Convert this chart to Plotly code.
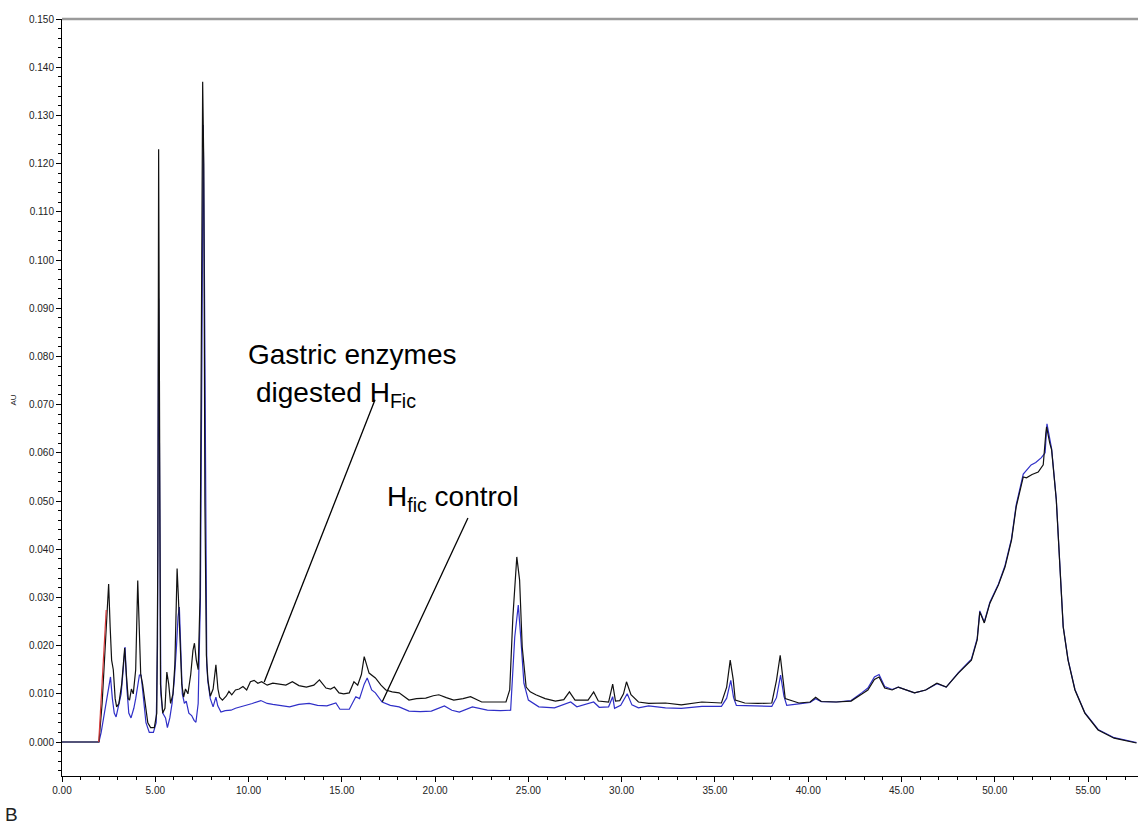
import plotly.graph_objects as go

# Retention time (min) and absorbance (AU) for the gastric-enzyme digested sample
digested_t = [0.00, 1.98, 2.15, 2.30, 2.42, 2.50, 2.58, 2.66, 2.75, 2.85, 2.93, 3.05, 3.20, 3.30, 3.36,
              3.45, 3.55, 3.62, 3.72, 3.82, 3.95, 4.06, 4.14, 4.22, 4.32, 4.45, 4.60, 4.75, 4.95, 5.08,
              5.14, 5.18, 5.22, 5.28, 5.40, 5.52, 5.62, 5.72, 5.82, 5.95, 6.05, 6.12, 6.17, 6.24, 6.32,
              6.42, 6.52, 6.62, 6.75, 6.90, 7.02, 7.10, 7.20, 7.30, 7.40, 7.48, 7.54, 7.60, 7.66, 7.74,
              7.82, 7.95, 8.10, 8.25, 8.36, 8.45, 8.60, 8.80, 8.95, 9.10, 9.30, 9.50, 9.70, 9.90, 10.10,
              10.30, 10.50, 10.70, 11.00, 11.30, 11.60, 12.00, 12.35, 12.70, 13.10, 13.50, 13.80, 14.15,
              14.40, 14.60, 14.85, 15.10, 15.40, 15.65, 15.85, 16.05, 16.20, 16.35, 16.46, 16.80, 17.10,
              17.36, 17.70, 18.07, 18.40, 18.60, 19.00, 19.50, 19.90, 20.20, 20.60, 21.00, 21.50, 21.90,
              22.50, 23.20, 23.80, 24.00, 24.17, 24.38, 24.53, 24.67, 24.88, 25.10, 25.40, 25.90, 26.45,
              26.90, 27.20, 27.50, 28.20, 28.50, 28.75, 29.30, 29.52, 29.67, 29.90, 30.10, 30.26, 30.50,
              30.90, 31.45, 32.35, 33.20, 34.30, 35.35, 35.63, 35.82, 35.98, 36.09, 36.60, 37.30, 38.05,
              38.30, 38.50, 38.65, 38.77, 39.50, 40.10, 40.40, 40.70, 41.50, 42.30, 42.90, 43.20, 43.55,
              43.80, 44.10, 44.50, 44.83, 45.10, 45.70, 46.30, 46.90, 47.40, 48.05, 48.75, 49.06, 49.20,
              49.44, 49.74, 50.20, 50.55, 50.90, 51.15, 51.53, 51.70, 52.00, 52.33, 52.60, 52.74, 52.78,
              52.95, 53.05, 53.30, 53.50, 53.67, 53.93, 54.30, 54.83, 55.54, 56.40, 57.60]
digested_au = [0.0000, 0.0000, 0.0080, 0.0200, 0.0280, 0.0328, 0.0240, 0.0170, 0.0150, 0.0090, 0.0073,
               0.0080, 0.0120, 0.0170, 0.0195, 0.0140, 0.0090, 0.0087, 0.0110, 0.0100, 0.0150, 0.0335,
               0.0220, 0.0140, 0.0120, 0.0080, 0.0040, 0.0030, 0.0030, 0.0060, 0.0400, 0.1230, 0.0600,
               0.0120, 0.0060, 0.0070, 0.0145, 0.0120, 0.0080, 0.0100, 0.0160, 0.0300, 0.0360, 0.0300,
               0.0200, 0.0120, 0.0093, 0.0110, 0.0100, 0.0140, 0.0190, 0.0205, 0.0170, 0.0150, 0.0300,
               0.0900, 0.1370, 0.1200, 0.0500, 0.0180, 0.0130, 0.0095, 0.0110, 0.0160, 0.0110, 0.0093,
               0.0087, 0.0095, 0.0105, 0.0098, 0.0108, 0.0110, 0.0115, 0.0108, 0.0125, 0.0128, 0.0122,
               0.0125, 0.0118, 0.0122, 0.0120, 0.0118, 0.0125, 0.0117, 0.0114, 0.0118, 0.0129, 0.0112,
               0.0110, 0.0114, 0.0102, 0.0100, 0.0102, 0.0125, 0.0118, 0.0140, 0.0177, 0.0160, 0.0143,
               0.0133, 0.0118, 0.0108, 0.0104, 0.0102, 0.0092, 0.0087, 0.0090, 0.0091, 0.0096, 0.0098,
               0.0092, 0.0087, 0.0090, 0.0094, 0.0083, 0.0083, 0.0083, 0.0108, 0.0260, 0.0384, 0.0336,
               0.0197, 0.0114, 0.0104, 0.0098, 0.0090, 0.0085, 0.0088, 0.0104, 0.0087, 0.0087, 0.0104,
               0.0085, 0.0083, 0.0120, 0.0085, 0.0086, 0.0100, 0.0125, 0.0098, 0.0083, 0.0080, 0.0081,
               0.0077, 0.0083, 0.0081, 0.0114, 0.0170, 0.0130, 0.0087, 0.0081, 0.0080, 0.0081, 0.0128,
               0.0180, 0.0130, 0.0090, 0.0081, 0.0083, 0.0093, 0.0084, 0.0083, 0.0085, 0.0100, 0.0108,
               0.0130, 0.0135, 0.0112, 0.0108, 0.0114, 0.0110, 0.0102, 0.0108, 0.0122, 0.0114, 0.0143,
               0.0170, 0.0212, 0.0270, 0.0247, 0.0288, 0.0326, 0.0363, 0.0419, 0.0488, 0.0550, 0.0548,
               0.0555, 0.0560, 0.0575, 0.0641, 0.0654, 0.0620, 0.0606, 0.0502, 0.0363, 0.0239, 0.0170,
               0.0108, 0.0060, 0.0025, 0.0008, -0.0002]

# Undigested H_fic control
control_t = [0.00, 1.98, 2.10, 2.27, 2.40, 2.52, 2.60, 2.70, 2.80, 2.90, 3.00, 3.17, 3.28, 3.38, 3.48,
             3.58, 3.70, 3.85, 3.95, 4.05, 4.15, 4.24, 4.35, 4.50, 4.68, 4.90, 5.05, 5.12, 5.18, 5.24,
             5.30, 5.40, 5.55, 5.65, 5.78, 5.90, 6.02, 6.14, 6.22, 6.29, 6.36, 6.45, 6.56, 6.66, 6.80,
             6.95, 7.08, 7.18, 7.30, 7.42, 7.50, 7.57, 7.63, 7.70, 7.76, 7.82, 7.95, 8.10, 8.25, 8.35,
             8.52, 8.75, 9.06, 9.30, 9.50, 9.93, 10.20, 10.66, 11.00, 11.30, 11.70, 12.20, 12.70, 13.25,
             13.70, 14.20, 14.68, 14.90, 15.40, 15.75, 15.95, 16.20, 16.36, 16.60, 16.80, 17.16, 17.60,
             18.07, 18.60, 19.20, 19.80, 20.50, 20.90, 21.30, 22.00, 22.80, 23.50, 24.05, 24.27, 24.46,
             24.60, 24.76, 25.00, 25.56, 26.40, 27.27, 27.60, 28.50, 28.80, 29.30, 29.52, 29.62, 29.95,
             30.30, 30.55, 30.90, 31.45, 32.35, 33.20, 34.30, 35.35, 35.63, 35.85, 36.00, 36.15, 37.00,
             38.05, 38.30, 38.52, 38.70, 38.85, 39.50, 40.10, 40.40, 40.70, 41.50, 42.30, 42.90, 43.20,
             43.55, 43.80, 44.10, 44.50, 44.83, 45.10, 45.70, 46.30, 46.90, 47.40, 48.05, 48.75, 49.06,
             49.20, 49.44, 49.74, 50.20, 50.55, 50.90, 51.15, 51.53, 51.95, 52.20, 52.50, 52.70, 52.80,
             52.95, 53.05, 53.30, 53.50, 53.67, 53.93, 54.30, 54.83, 55.54, 56.40, 57.60]
control_au = [0.0000, 0.0000, 0.0020, 0.0060, 0.0090, 0.0125, 0.0135, 0.0090, 0.0060, 0.0052, 0.0070,
              0.0100, 0.0150, 0.0197, 0.0110, 0.0060, 0.0050, 0.0070, 0.0090, 0.0120, 0.0139, 0.0139,
              0.0090, 0.0040, 0.0020, 0.0020, 0.0040, 0.0200, 0.0920, 0.0400, 0.0100, 0.0060, 0.0050,
              0.0030, 0.0050, 0.0080, 0.0128, 0.0200, 0.0260, 0.0280, 0.0200, 0.0100, 0.0080, 0.0085,
              0.0060, 0.0055, 0.0045, 0.0041, 0.0080, 0.0300, 0.0800, 0.1280, 0.1000, 0.0400, 0.0160,
              0.0125, 0.0090, 0.0073, 0.0093, 0.0075, 0.0062, 0.0065, 0.0066, 0.0070, 0.0072, 0.0077,
              0.0080, 0.0086, 0.0080, 0.0078, 0.0076, 0.0073, 0.0078, 0.0080, 0.0076, 0.0075, 0.0081,
              0.0068, 0.0068, 0.0094, 0.0090, 0.0120, 0.0133, 0.0108, 0.0102, 0.0083, 0.0076, 0.0073,
              0.0064, 0.0063, 0.0064, 0.0075, 0.0066, 0.0062, 0.0073, 0.0066, 0.0065, 0.0066, 0.0218,
              0.0284, 0.0213, 0.0122, 0.0087, 0.0073, 0.0071, 0.0083, 0.0073, 0.0083, 0.0072, 0.0073,
              0.0094, 0.0070, 0.0076, 0.0100, 0.0077, 0.0071, 0.0075, 0.0071, 0.0070, 0.0074, 0.0074,
              0.0091, 0.0128, 0.0092, 0.0076, 0.0075, 0.0074, 0.0092, 0.0139, 0.0095, 0.0076, 0.0079,
              0.0082, 0.0090, 0.0084, 0.0083, 0.0086, 0.0103, 0.0112, 0.0135, 0.0140, 0.0115, 0.0109,
              0.0114, 0.0110, 0.0102, 0.0108, 0.0121, 0.0114, 0.0144, 0.0172, 0.0215, 0.0272, 0.0249,
              0.0290, 0.0328, 0.0366, 0.0422, 0.0492, 0.0556, 0.0575, 0.0580, 0.0590, 0.0600, 0.0660,
              0.0630, 0.0608, 0.0504, 0.0365, 0.0240, 0.0171, 0.0109, 0.0061, 0.0026, 0.0009, -0.0001]

# Solvent-front baseline segment
front_t = [1.97, 2.37]
front_au = [0.0000, 0.0274]

# Axis ticks
x_ticks = [0, 5, 10, 15, 20, 25, 30, 35, 40, 45, 50, 55]
y_ticks = [0.000, 0.010, 0.020, 0.030, 0.040, 0.050, 0.060, 0.070, 0.080,
           0.090, 0.100, 0.110, 0.120, 0.130, 0.140, 0.150]

FONT = "Arial, 'Liberation Sans', sans-serif"

fig = go.Figure()
fig.add_trace(go.Scatter(x=control_t, y=control_au, mode="lines",
                         line=dict(color="#2f2fc8", width=1.2), name="H_fic control"))
fig.add_trace(go.Scatter(x=digested_t, y=digested_au, mode="lines",
                         line=dict(color="#111111", width=1.2), name="Gastric enzymes digested H_Fic"))
fig.add_trace(go.Scatter(x=front_t, y=front_au, mode="lines",
                         line=dict(color="#d63a3a", width=1.2), name="front"))

axis_common = dict(showline=True, linecolor="black", linewidth=1, ticks="outside",
                   tickcolor="black", tickwidth=1, ticklen=5, showgrid=False, zeroline=False,
                   tickfont=dict(family=FONT, size=10, color="#222222"))

fig.update_xaxes(range=[0, 57.68], tickvals=x_ticks, ticktext=[f"{v:.2f}" for v in x_ticks],
                 minor=dict(dtick=1, tick0=0, ticks="outside", ticklen=3, tickcolor="black",
                            showgrid=False),
                 **axis_common)
fig.update_yaxes(range=[-0.00705, 0.150], tickvals=y_ticks, ticktext=[f"{v:.3f}" for v in y_ticks],
                 minor=dict(dtick=0.002, tick0=0, ticks="outside", ticklen=3, tickcolor="black",
                            showgrid=False),
                 **axis_common)

# Top frame line and leader lines to the labels
shapes = [
    dict(type="line", xref="paper", yref="paper", x0=0, x1=1, y0=1, y1=1,
         line=dict(color="#9a9a9a", width=2.5)),
    dict(type="line", xref="x", yref="y", x0=16.78, y0=0.0710, x1=10.84, y1=0.01245,
         line=dict(color="black", width=1.3)),
    dict(type="line", xref="x", yref="y", x0=21.76, y0=0.04647, x1=17.17, y1=0.00836,
         line=dict(color="black", width=1.3)),
]

label_font = dict(family=FONT, size=28, color="black")
annotations = [
    dict(x=9.89, y=0.0803, xref="x", yref="y", text="Gastric enzymes", showarrow=False,
         font=label_font, xanchor="left", yanchor="middle"),
    dict(x=10.27, y=0.0722, xref="x", yref="y", text="digested H<sub>Fic</sub>", showarrow=False,
         font=label_font, xanchor="left", yanchor="middle"),
    dict(x=17.29, y=0.0505, xref="x", yref="y", text="H<sub>fic</sub> control", showarrow=False,
         font=label_font, xanchor="left", yanchor="middle"),
    dict(x=-0.045, y=0.4967, xref="paper", yref="paper", text="AU", showarrow=False,
         textangle=-90, font=dict(family=FONT, size=8, color="#222222"),
         xanchor="center", yanchor="middle"),
    dict(x=-0.047, y=-0.0515, xref="paper", yref="paper", text="B", showarrow=False,
         font=dict(family=FONT, size=19, color="#222222"), xanchor="center", yanchor="middle"),
]

fig.update_layout(width=1138, height=824, margin=dict(l=62, r=0, t=19, b=48),
                  plot_bgcolor="white", paper_bgcolor="white", showlegend=False,
                  shapes=shapes, annotations=annotations)

fig.write_html("out.html")
